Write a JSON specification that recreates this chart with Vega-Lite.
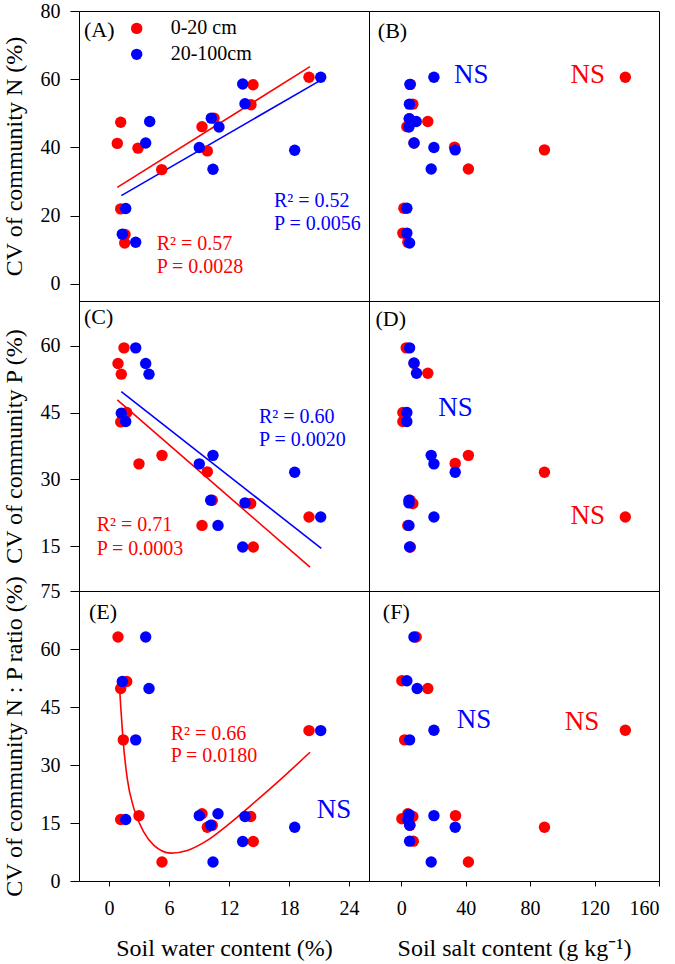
{
  "$schema": "https://vega.github.io/schema/vega-lite/v6.json",
  "padding": {"left": 1, "top": 0, "right": 0, "bottom": 0},
  "config": {
    "font": "Liberation Serif",
    "view": {"stroke": "#000000", "strokeWidth": 1},
    "axis": {"labelFont": "Liberation Serif", "titleFont": "Liberation Serif", "labelColor": "#000000", "titleColor": "#000000", "tickColor": "#000000", "labelFontSize": 20, "titleFontSize": 24, "titleFontWeight": "normal", "grid": false, "domain": false},
    "text": {"font": "Liberation Serif"}
  },
  "datasets": {
    "points": [
      {"panel":"A","depth":"0-20 cm","x":1.17,"y":47.4},{"panel":"A","depth":"0-20 cm","x":0.83,"y":41.2},{"panel":"A","depth":"0-20 cm","x":2.9,"y":39.8},{"panel":"A","depth":"0-20 cm","x":1.17,"y":22.0},{"panel":"A","depth":"0-20 cm","x":1.6,"y":14.5},{"panel":"A","depth":"0-20 cm","x":1.57,"y":12.0},{"panel":"A","depth":"0-20 cm","x":5.27,"y":33.5},{"panel":"A","depth":"0-20 cm","x":9.3,"y":46.1},{"panel":"A","depth":"0-20 cm","x":9.83,"y":39.0},{"panel":"A","depth":"0-20 cm","x":10.5,"y":48.6},{"panel":"A","depth":"0-20 cm","x":14.4,"y":58.4},{"panel":"A","depth":"0-20 cm","x":14.2,"y":52.5},{"panel":"A","depth":"0-20 cm","x":20.0,"y":60.6},
      {"panel":"A","depth":"20-100cm","x":4.07,"y":47.6},{"panel":"A","depth":"20-100cm","x":3.67,"y":41.3},{"panel":"A","depth":"20-100cm","x":1.67,"y":22.1},{"panel":"A","depth":"20-100cm","x":1.33,"y":14.6},{"panel":"A","depth":"20-100cm","x":2.67,"y":12.2},{"panel":"A","depth":"20-100cm","x":9.03,"y":40.0},{"panel":"A","depth":"20-100cm","x":10.23,"y":48.6},{"panel":"A","depth":"20-100cm","x":11.0,"y":46.0},{"panel":"A","depth":"20-100cm","x":10.4,"y":33.6},{"panel":"A","depth":"20-100cm","x":13.37,"y":58.6},{"panel":"A","depth":"20-100cm","x":13.6,"y":52.8},{"panel":"A","depth":"20-100cm","x":18.57,"y":39.2},{"panel":"A","depth":"20-100cm","x":21.17,"y":60.6},
      {"panel":"B","depth":"0-20 cm","x":139.1,"y":60.6},{"panel":"B","depth":"0-20 cm","x":5.7,"y":58.5},{"panel":"B","depth":"0-20 cm","x":7.2,"y":52.7},{"panel":"B","depth":"0-20 cm","x":5.0,"y":48.4},{"panel":"B","depth":"0-20 cm","x":16.5,"y":47.6},{"panel":"B","depth":"0-20 cm","x":3.5,"y":46.1},{"panel":"B","depth":"0-20 cm","x":8.0,"y":41.3},{"panel":"B","depth":"0-20 cm","x":33.1,"y":40.1},{"panel":"B","depth":"0-20 cm","x":88.9,"y":39.3},{"panel":"B","depth":"0-20 cm","x":41.7,"y":33.7},{"panel":"B","depth":"0-20 cm","x":1.65,"y":22.2},{"panel":"B","depth":"0-20 cm","x":1.0,"y":14.9},{"panel":"B","depth":"0-20 cm","x":4.1,"y":12.2},
      {"panel":"B","depth":"20-100cm","x":20.3,"y":60.6},{"panel":"B","depth":"20-100cm","x":5.4,"y":58.5},{"panel":"B","depth":"20-100cm","x":5.1,"y":52.7},{"panel":"B","depth":"20-100cm","x":5.0,"y":48.4},{"panel":"B","depth":"20-100cm","x":9.3,"y":47.6},{"panel":"B","depth":"20-100cm","x":4.8,"y":46.0},{"panel":"B","depth":"20-100cm","x":7.9,"y":41.3},{"panel":"B","depth":"20-100cm","x":20.3,"y":40.0},{"panel":"B","depth":"20-100cm","x":33.5,"y":39.3},{"panel":"B","depth":"20-100cm","x":18.6,"y":33.7},{"panel":"B","depth":"20-100cm","x":3.5,"y":22.2},{"panel":"B","depth":"20-100cm","x":3.5,"y":14.9},{"panel":"B","depth":"20-100cm","x":5.2,"y":12.0},
      {"panel":"C","depth":"0-20 cm","x":1.5,"y":59.5},{"panel":"C","depth":"0-20 cm","x":0.9,"y":56.0},{"panel":"C","depth":"0-20 cm","x":1.23,"y":53.6},{"panel":"C","depth":"0-20 cm","x":1.17,"y":42.9},{"panel":"C","depth":"0-20 cm","x":1.77,"y":45.0},{"panel":"C","depth":"0-20 cm","x":3.0,"y":33.5},{"panel":"C","depth":"0-20 cm","x":5.3,"y":35.4},{"panel":"C","depth":"0-20 cm","x":9.83,"y":31.7},{"panel":"C","depth":"0-20 cm","x":9.3,"y":19.7},{"panel":"C","depth":"0-20 cm","x":10.33,"y":25.35},{"panel":"C","depth":"0-20 cm","x":14.17,"y":24.6},{"panel":"C","depth":"0-20 cm","x":14.43,"y":14.85},{"panel":"C","depth":"0-20 cm","x":20.0,"y":21.6},
      {"panel":"C","depth":"20-100cm","x":2.67,"y":59.5},{"panel":"C","depth":"20-100cm","x":3.67,"y":56.0},{"panel":"C","depth":"20-100cm","x":4.0,"y":53.6},{"panel":"C","depth":"20-100cm","x":1.23,"y":44.85},{"panel":"C","depth":"20-100cm","x":1.67,"y":43.0},{"panel":"C","depth":"20-100cm","x":9.03,"y":33.5},{"panel":"C","depth":"20-100cm","x":10.4,"y":35.4},{"panel":"C","depth":"20-100cm","x":18.57,"y":31.6},{"panel":"C","depth":"20-100cm","x":10.17,"y":25.35},{"panel":"C","depth":"20-100cm","x":10.9,"y":19.7},{"panel":"C","depth":"20-100cm","x":13.6,"y":24.75},{"panel":"C","depth":"20-100cm","x":13.37,"y":14.85},{"panel":"C","depth":"20-100cm","x":21.17,"y":21.6},
      {"panel":"D","depth":"0-20 cm","x":3.1,"y":59.5},{"panel":"D","depth":"0-20 cm","x":8.0,"y":56.0},{"panel":"D","depth":"0-20 cm","x":16.5,"y":53.8},{"panel":"D","depth":"0-20 cm","x":1.03,"y":45.0},{"panel":"D","depth":"0-20 cm","x":1.03,"y":43.0},{"panel":"D","depth":"0-20 cm","x":41.7,"y":35.4},{"panel":"D","depth":"0-20 cm","x":33.5,"y":33.6},{"panel":"D","depth":"0-20 cm","x":88.9,"y":31.6},{"panel":"D","depth":"0-20 cm","x":5.5,"y":25.35},{"panel":"D","depth":"0-20 cm","x":7.2,"y":24.6},{"panel":"D","depth":"0-20 cm","x":139.1,"y":21.6},{"panel":"D","depth":"0-20 cm","x":4.1,"y":19.7},{"panel":"D","depth":"0-20 cm","x":5.7,"y":14.85},
      {"panel":"D","depth":"20-100cm","x":5.2,"y":59.5},{"panel":"D","depth":"20-100cm","x":7.9,"y":56.1},{"panel":"D","depth":"20-100cm","x":9.5,"y":53.8},{"panel":"D","depth":"20-100cm","x":3.5,"y":45.0},{"panel":"D","depth":"20-100cm","x":3.5,"y":43.0},{"panel":"D","depth":"20-100cm","x":18.6,"y":35.4},{"panel":"D","depth":"20-100cm","x":20.3,"y":33.5},{"panel":"D","depth":"20-100cm","x":33.5,"y":31.6},{"panel":"D","depth":"20-100cm","x":4.8,"y":25.35},{"panel":"D","depth":"20-100cm","x":4.8,"y":24.75},{"panel":"D","depth":"20-100cm","x":20.3,"y":21.6},{"panel":"D","depth":"20-100cm","x":4.8,"y":19.7},{"panel":"D","depth":"20-100cm","x":5.2,"y":14.85},
      {"panel":"E","depth":"0-20 cm","x":0.9,"y":63.1},{"panel":"E","depth":"0-20 cm","x":1.77,"y":51.6},{"panel":"E","depth":"0-20 cm","x":1.17,"y":49.8},{"panel":"E","depth":"0-20 cm","x":1.43,"y":36.5},{"panel":"E","depth":"0-20 cm","x":20.0,"y":38.9},{"panel":"E","depth":"0-20 cm","x":1.17,"y":15.9},{"panel":"E","depth":"0-20 cm","x":3.0,"y":16.9},{"panel":"E","depth":"0-20 cm","x":9.3,"y":17.4},{"panel":"E","depth":"0-20 cm","x":9.83,"y":13.9},{"panel":"E","depth":"0-20 cm","x":10.33,"y":14.4},{"panel":"E","depth":"0-20 cm","x":14.17,"y":16.7},{"panel":"E","depth":"0-20 cm","x":14.43,"y":10.2},{"panel":"E","depth":"0-20 cm","x":5.3,"y":4.9},
      {"panel":"E","depth":"20-100cm","x":3.67,"y":63.1},{"panel":"E","depth":"20-100cm","x":1.33,"y":51.6},{"panel":"E","depth":"20-100cm","x":4.0,"y":49.8},{"panel":"E","depth":"20-100cm","x":2.67,"y":36.5},{"panel":"E","depth":"20-100cm","x":21.17,"y":38.9},{"panel":"E","depth":"20-100cm","x":1.67,"y":15.9},{"panel":"E","depth":"20-100cm","x":9.03,"y":16.9},{"panel":"E","depth":"20-100cm","x":10.9,"y":17.4},{"panel":"E","depth":"20-100cm","x":10.17,"y":14.4},{"panel":"E","depth":"20-100cm","x":13.6,"y":16.7},{"panel":"E","depth":"20-100cm","x":13.37,"y":10.2},{"panel":"E","depth":"20-100cm","x":18.57,"y":13.9},{"panel":"E","depth":"20-100cm","x":10.4,"y":4.9},
      {"panel":"F","depth":"0-20 cm","x":9.3,"y":63.1},{"panel":"F","depth":"0-20 cm","x":0.4,"y":51.8},{"panel":"F","depth":"0-20 cm","x":16.5,"y":49.8},{"panel":"F","depth":"0-20 cm","x":2.1,"y":36.5},{"panel":"F","depth":"0-20 cm","x":139.1,"y":39.0},{"panel":"F","depth":"0-20 cm","x":0.4,"y":16.1},{"panel":"F","depth":"0-20 cm","x":7.2,"y":16.7},{"panel":"F","depth":"0-20 cm","x":33.7,"y":16.9},{"panel":"F","depth":"0-20 cm","x":4.1,"y":17.4},{"panel":"F","depth":"0-20 cm","x":5.5,"y":14.4},{"panel":"F","depth":"0-20 cm","x":88.9,"y":13.9},{"panel":"F","depth":"0-20 cm","x":7.5,"y":10.3},{"panel":"F","depth":"0-20 cm","x":41.7,"y":4.9},
      {"panel":"F","depth":"20-100cm","x":7.9,"y":63.1},{"panel":"F","depth":"20-100cm","x":3.5,"y":51.8},{"panel":"F","depth":"20-100cm","x":9.9,"y":49.8},{"panel":"F","depth":"20-100cm","x":5.2,"y":36.5},{"panel":"F","depth":"20-100cm","x":20.3,"y":39.0},{"panel":"F","depth":"20-100cm","x":4.8,"y":17.2},{"panel":"F","depth":"20-100cm","x":4.1,"y":15.9},{"panel":"F","depth":"20-100cm","x":20.3,"y":16.9},{"panel":"F","depth":"20-100cm","x":4.5,"y":16.7},{"panel":"F","depth":"20-100cm","x":5.2,"y":14.4},{"panel":"F","depth":"20-100cm","x":33.5,"y":13.9},{"panel":"F","depth":"20-100cm","x":5.2,"y":10.3},{"panel":"F","depth":"20-100cm","x":18.6,"y":4.9}
    ],
    "fits": [
      {"panel":"A","depth":"0-20 cm","x":0.83,"y":28.3},{"panel":"A","depth":"0-20 cm","x":20.1,"y":63.7},
      {"panel":"A","depth":"20-100cm","x":1.23,"y":25.9},{"panel":"A","depth":"20-100cm","x":21.1,"y":59.6},
      {"panel":"C","depth":"0-20 cm","x":0.83,"y":47.85},{"panel":"C","depth":"0-20 cm","x":20.1,"y":10.35},
      {"panel":"C","depth":"20-100cm","x":1.23,"y":49.7},{"panel":"C","depth":"20-100cm","x":21.23,"y":14.55},
      {"panel":"E","depth":"0-20 cm","x":1.0,"y":52.2},{"panel":"E","depth":"0-20 cm","x":1.17,"y":45.3},{"panel":"E","depth":"0-20 cm","x":1.4,"y":36.7},{"panel":"E","depth":"0-20 cm","x":1.83,"y":26.4},{"panel":"E","depth":"0-20 cm","x":2.5,"y":18.65},{"panel":"E","depth":"0-20 cm","x":3.5,"y":12.6},{"panel":"E","depth":"0-20 cm","x":4.5,"y":9.2},{"panel":"E","depth":"0-20 cm","x":6.17,"y":7.2},{"panel":"E","depth":"0-20 cm","x":7.83,"y":7.9},{"panel":"E","depth":"0-20 cm","x":9.83,"y":10.5},{"panel":"E","depth":"0-20 cm","x":11.83,"y":14.4},{"panel":"E","depth":"0-20 cm","x":14.17,"y":19.5},{"panel":"E","depth":"0-20 cm","x":16.83,"y":25.5},{"panel":"E","depth":"0-20 cm","x":20.1,"y":33.3}
    ],
    "notes": [
      {"panel":"A","kind":"tag","x":-2.5,"y":74.5,"label":"(A)"},
      {"panel":"A","kind":"key","depth":"0-20 cm","x":2.77,"y":74.9},
      {"panel":"A","kind":"key","depth":"20-100cm","x":2.77,"y":67.3},
      {"panel":"A","kind":"keytext","x":6.17,"y":74.9,"label":"0-20 cm"},
      {"panel":"A","kind":"keytext","x":6.17,"y":67.3,"label":"20-100cm"},
      {"panel":"A","kind":"stat","depth":"20-100cm","x":16.5,"y":24.2,"label":"R² = 0.52"},
      {"panel":"A","kind":"stat","depth":"20-100cm","x":16.5,"y":17.6,"label":"P = 0.0056"},
      {"panel":"A","kind":"stat","depth":"0-20 cm","x":4.77,"y":11.8,"label":"R² = 0.57"},
      {"panel":"A","kind":"stat","depth":"0-20 cm","x":4.77,"y":4.9,"label":"P = 0.0028"},
      {"panel":"B","kind":"tag","x":-14.5,"y":74,"label":"(B)"},
      {"panel":"B","kind":"ns","depth":"20-100cm","x":43.4,"y":61.3,"label":"NS"},
      {"panel":"B","kind":"ns","depth":"0-20 cm","x":115.8,"y":61.3,"label":"NS"},
      {"panel":"C","kind":"tag","x":-2.5,"y":66.5,"label":"(C)"},
      {"panel":"C","kind":"stat","depth":"20-100cm","x":15.0,"y":43.9,"label":"R² = 0.60"},
      {"panel":"C","kind":"stat","depth":"20-100cm","x":15.0,"y":38.8,"label":"P = 0.0020"},
      {"panel":"C","kind":"stat","depth":"0-20 cm","x":-1.23,"y":19.7,"label":"R² = 0.71"},
      {"panel":"C","kind":"stat","depth":"0-20 cm","x":-1.23,"y":14.5,"label":"P = 0.0003"},
      {"panel":"D","kind":"tag","x":-16,"y":66,"label":"(D)"},
      {"panel":"D","kind":"ns","depth":"20-100cm","x":33.7,"y":46.1,"label":"NS"},
      {"panel":"D","kind":"ns","depth":"0-20 cm","x":115.8,"y":21.7,"label":"NS"},
      {"panel":"E","kind":"tag","x":-2.0,"y":69.6,"label":"(E)"},
      {"panel":"E","kind":"stat","depth":"0-20 cm","x":6.17,"y":38.0,"label":"R² = 0.66"},
      {"panel":"E","kind":"stat","depth":"0-20 cm","x":6.17,"y":32.2,"label":"P = 0.0180"},
      {"panel":"E","kind":"ns","depth":"20-100cm","x":22.5,"y":18.4,"label":"NS"},
      {"panel":"F","kind":"tag","x":-11.4,"y":69.6,"label":"(F)"},
      {"panel":"F","kind":"ns","depth":"20-100cm","x":45.1,"y":41.6,"label":"NS"},
      {"panel":"F","kind":"ns","depth":"0-20 cm","x":112.2,"y":41.0,"label":"NS"}
    ]
  },
  "resolve": {"scale": {"x": "independent", "y": "independent"}},
  "columns": 2,
  "spacing": 0,
  "bounds": "flush",
  "concat": [
    {
      "width": 290, "height": 290,
      "encoding": {
        "x": {"field": "x", "type": "quantitative", "scale": {"domain": [-3, 26], "nice": false, "zero": false}, "axis": null},
        "y": {"field": "y", "type": "quantitative", "scale": {"domain": [-5, 80], "nice": false, "zero": false}, "axis": {"title": "CV of community N (%)", "values": [0, 20, 40, 60, 80], "tickSize": 9, "labelPadding": 10, "titlePadding": 14}}
      },
      "layer": [
        {"data": {"name": "fits"}, "transform": [{"filter": "datum.panel === 'A'"}], "mark": {"type": "line", "strokeWidth": 1.6}, "encoding": {"color": {"field": "depth", "type": "nominal", "scale": {"domain": ["0-20 cm", "20-100cm"], "range": ["#ff0000", "#0000ff"]}, "legend": null}}},
        {"data": {"name": "points"}, "transform": [{"filter": "datum.panel === 'A'"}], "mark": {"type": "circle", "size": 130, "opacity": 1}, "encoding": {"color": {"field": "depth", "type": "nominal", "legend": null}}},
        {"data": {"name": "notes"}, "transform": [{"filter": "datum.panel === 'A' && datum.kind === 'key'"}], "mark": {"type": "circle", "size": 130, "opacity": 1}, "encoding": {"color": {"field": "depth", "type": "nominal", "legend": null}}},
        {"data": {"name": "notes"}, "transform": [{"filter": "datum.panel === 'A' && datum.kind === 'keytext'"}], "mark": {"type": "text", "align": "left", "baseline": "middle", "fontSize": 20, "color": "#000000"}, "encoding": {"text": {"field": "label"}}},
        {"data": {"name": "notes"}, "transform": [{"filter": "datum.panel === 'A' && datum.kind === 'tag'"}], "mark": {"type": "text", "align": "left", "baseline": "middle", "fontSize": 22, "color": "#000000"}, "encoding": {"text": {"field": "label"}}},
        {"data": {"name": "notes"}, "transform": [{"filter": "datum.panel === 'A' && datum.kind === 'stat'"}], "mark": {"type": "text", "align": "left", "baseline": "middle", "fontSize": 20}, "encoding": {"text": {"field": "label"}, "color": {"field": "depth", "type": "nominal", "legend": null}}}
      ]
    },
    {
      "width": 290, "height": 290,
      "encoding": {
        "x": {"field": "x", "type": "quantitative", "scale": {"domain": [-20, 160], "nice": false, "zero": false}, "axis": null},
        "y": {"field": "y", "type": "quantitative", "scale": {"domain": [-5, 80], "nice": false, "zero": false}, "axis": null}
      },
      "layer": [
        {"data": {"name": "points"}, "transform": [{"filter": "datum.panel === 'B'"}], "mark": {"type": "circle", "size": 130, "opacity": 1}, "encoding": {"color": {"field": "depth", "type": "nominal", "legend": null}}},
        {"data": {"name": "notes"}, "transform": [{"filter": "datum.panel === 'B' && datum.kind === 'tag'"}], "mark": {"type": "text", "align": "left", "baseline": "middle", "fontSize": 22, "color": "#000000"}, "encoding": {"text": {"field": "label"}}},
        {"data": {"name": "notes"}, "transform": [{"filter": "datum.panel === 'B' && datum.kind === 'ns'"}], "mark": {"type": "text", "align": "center", "baseline": "middle", "fontSize": 27}, "encoding": {"text": {"field": "label"}, "color": {"field": "depth", "type": "nominal", "legend": null}}}
      ]
    },
    {
      "width": 290, "height": 290,
      "encoding": {
        "x": {"field": "x", "type": "quantitative", "scale": {"domain": [-3, 26], "nice": false, "zero": false}, "axis": null},
        "y": {"field": "y", "type": "quantitative", "scale": {"domain": [5, 70], "nice": false, "zero": false}, "axis": {"title": "CV of community P (%)", "values": [15, 30, 45, 60], "tickSize": 9, "labelPadding": 10, "titlePadding": 14}}
      },
      "layer": [
        {"data": {"name": "fits"}, "transform": [{"filter": "datum.panel === 'C'"}], "mark": {"type": "line", "strokeWidth": 1.6}, "encoding": {"color": {"field": "depth", "type": "nominal", "legend": null}}},
        {"data": {"name": "points"}, "transform": [{"filter": "datum.panel === 'C'"}], "mark": {"type": "circle", "size": 130, "opacity": 1}, "encoding": {"color": {"field": "depth", "type": "nominal", "legend": null}}},
        {"data": {"name": "notes"}, "transform": [{"filter": "datum.panel === 'C' && datum.kind === 'tag'"}], "mark": {"type": "text", "align": "left", "baseline": "middle", "fontSize": 22, "color": "#000000"}, "encoding": {"text": {"field": "label"}}},
        {"data": {"name": "notes"}, "transform": [{"filter": "datum.panel === 'C' && datum.kind === 'stat'"}], "mark": {"type": "text", "align": "left", "baseline": "middle", "fontSize": 20}, "encoding": {"text": {"field": "label"}, "color": {"field": "depth", "type": "nominal", "legend": null}}}
      ]
    },
    {
      "width": 290, "height": 290,
      "encoding": {
        "x": {"field": "x", "type": "quantitative", "scale": {"domain": [-20, 160], "nice": false, "zero": false}, "axis": null},
        "y": {"field": "y", "type": "quantitative", "scale": {"domain": [5, 70], "nice": false, "zero": false}, "axis": null}
      },
      "layer": [
        {"data": {"name": "points"}, "transform": [{"filter": "datum.panel === 'D'"}], "mark": {"type": "circle", "size": 130, "opacity": 1}, "encoding": {"color": {"field": "depth", "type": "nominal", "legend": null}}},
        {"data": {"name": "notes"}, "transform": [{"filter": "datum.panel === 'D' && datum.kind === 'tag'"}], "mark": {"type": "text", "align": "left", "baseline": "middle", "fontSize": 22, "color": "#000000"}, "encoding": {"text": {"field": "label"}}},
        {"data": {"name": "notes"}, "transform": [{"filter": "datum.panel === 'D' && datum.kind === 'ns'"}], "mark": {"type": "text", "align": "center", "baseline": "middle", "fontSize": 27}, "encoding": {"text": {"field": "label"}, "color": {"field": "depth", "type": "nominal", "legend": null}}}
      ]
    },
    {
      "width": 290, "height": 290,
      "encoding": {
        "x": {"field": "x", "type": "quantitative", "scale": {"domain": [-3, 26], "nice": false, "zero": false}, "axis": {"title": "Soil water content (%)", "values": [0, 6, 12, 18, 24], "tickSize": 5, "labelPadding": 12, "titlePadding": 18}},
        "y": {"field": "y", "type": "quantitative", "scale": {"domain": [0, 75], "nice": false, "zero": false}, "axis": {"title": "CV of community N : P ratio (%)", "values": [0, 15, 30, 45, 60, 75], "tickSize": 9, "labelPadding": 10, "titlePadding": 14}}
      },
      "layer": [
        {"data": {"name": "fits"}, "transform": [{"filter": "datum.panel === 'E'"}], "mark": {"type": "line", "strokeWidth": 1.6, "interpolate": "monotone"}, "encoding": {"color": {"field": "depth", "type": "nominal", "legend": null}}},
        {"data": {"name": "points"}, "transform": [{"filter": "datum.panel === 'E'"}], "mark": {"type": "circle", "size": 130, "opacity": 1}, "encoding": {"color": {"field": "depth", "type": "nominal", "legend": null}}},
        {"data": {"name": "notes"}, "transform": [{"filter": "datum.panel === 'E' && datum.kind === 'tag'"}], "mark": {"type": "text", "align": "left", "baseline": "middle", "fontSize": 22, "color": "#000000"}, "encoding": {"text": {"field": "label"}}},
        {"data": {"name": "notes"}, "transform": [{"filter": "datum.panel === 'E' && datum.kind === 'stat'"}], "mark": {"type": "text", "align": "left", "baseline": "middle", "fontSize": 20}, "encoding": {"text": {"field": "label"}, "color": {"field": "depth", "type": "nominal", "legend": null}}},
        {"data": {"name": "notes"}, "transform": [{"filter": "datum.panel === 'E' && datum.kind === 'ns'"}], "mark": {"type": "text", "align": "center", "baseline": "middle", "fontSize": 27}, "encoding": {"text": {"field": "label"}, "color": {"field": "depth", "type": "nominal", "legend": null}}}
      ]
    },
    {
      "width": 290, "height": 290,
      "encoding": {
        "x": {"field": "x", "type": "quantitative", "scale": {"domain": [-20, 160], "nice": false, "zero": false}, "axis": {"title": "Soil salt content (g kg⁻¹)", "values": [0, 40, 80, 120, 160], "tickSize": 5, "labelPadding": 12, "titlePadding": 18}},
        "y": {"field": "y", "type": "quantitative", "scale": {"domain": [0, 75], "nice": false, "zero": false}, "axis": null}
      },
      "layer": [
        {"data": {"name": "points"}, "transform": [{"filter": "datum.panel === 'F'"}], "mark": {"type": "circle", "size": 130, "opacity": 1}, "encoding": {"color": {"field": "depth", "type": "nominal", "legend": null}}},
        {"data": {"name": "notes"}, "transform": [{"filter": "datum.panel === 'F' && datum.kind === 'tag'"}], "mark": {"type": "text", "align": "left", "baseline": "middle", "fontSize": 22, "color": "#000000"}, "encoding": {"text": {"field": "label"}}},
        {"data": {"name": "notes"}, "transform": [{"filter": "datum.panel === 'F' && datum.kind === 'ns'"}], "mark": {"type": "text", "align": "center", "baseline": "middle", "fontSize": 27}, "encoding": {"text": {"field": "label"}, "color": {"field": "depth", "type": "nominal", "legend": null}}}
      ]
    }
  ]
}
